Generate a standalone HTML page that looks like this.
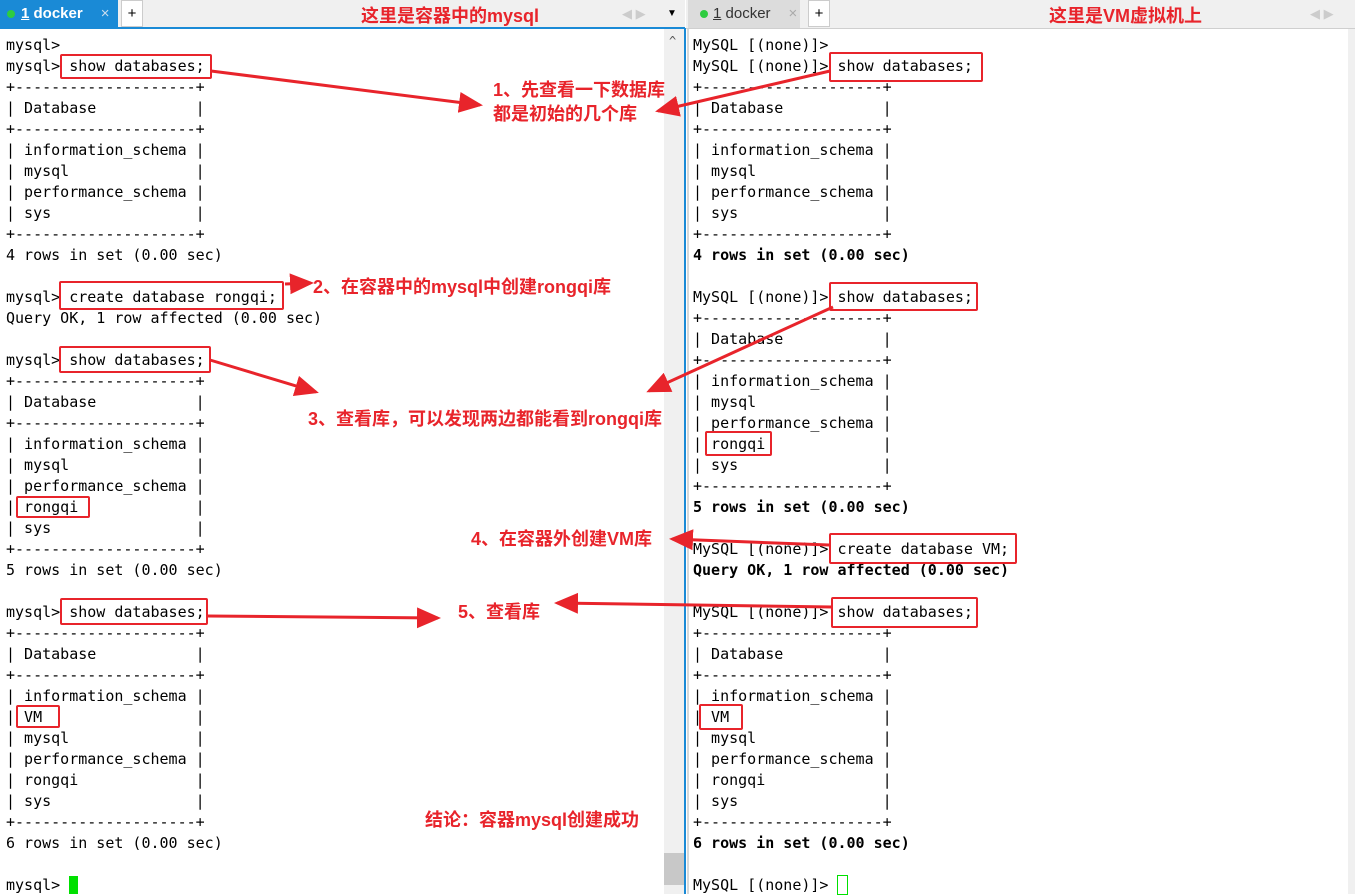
<!DOCTYPE html>
<html><head><meta charset="utf-8"><style>
body{margin:0;width:1355px;height:894px;background:#fff;position:relative;overflow:hidden;font-family:"DejaVu Sans Mono","Liberation Mono",monospace}
.bar{position:absolute;top:0;height:28px;background:#f0f0f0;border-bottom:1px solid #cfcfcf}
.tab{position:absolute;top:0;height:28px;font:15px "Liberation Sans",sans-serif;line-height:28px}
pre{position:absolute;margin:0;font:15px/21px "DejaVu Sans Mono",monospace;color:#000}
.b{font-weight:bold}
.box{position:absolute;border:2px solid #e8242b;border-radius:2px;box-sizing:border-box}
.lab{position:absolute;color:#e8242b;font:bold 18px "Liberation Sans","Noto Sans CJK SC",sans-serif;white-space:nowrap}
</style></head><body>
<div class="bar" style="left:0;width:685px"></div>
<div class="bar" style="left:686px;width:669px"></div>
<div class="tab" style="left:0;width:118px;background:#1a8ad6;color:#fff;font-weight:bold"><span style="display:inline-block;width:8px;height:8px;border-radius:50%;background:#2ecc40;margin:0 6px 0 7px"></span><u>1</u> docker<span style="font-weight:normal;margin-left:18px;color:#cde">×</span></div>
<div class="tab" style="left:121px;width:20px;background:#fff;border:1px solid #ccc;height:25px;text-align:center;line-height:25px">+</div>
<div class="tab" style="left:688px;width:112px;background:#dcdcdc;color:#333"><span style="display:inline-block;width:8px;height:8px;border-radius:50%;background:#2ecc40;margin:0 5px 0 12px"></span><u>1</u> docker<span style="margin-left:18px;color:#aaa">×</span></div>
<div class="tab" style="left:808px;width:20px;background:#fff;border:1px solid #ccc;height:25px;text-align:center;line-height:25px">+</div>
<div class="tab" style="left:622px;color:#ccc;font-size:13px">◀ ▶</div><div class="tab" style="left:667px;font-size:10px">▼</div>
<div class="tab" style="left:1310px;color:#ccc;font-size:13px">◀ ▶</div>
<div style="position:absolute;left:0;top:27px;width:685px;height:2px;background:#1a8ad6"></div>
<div style="position:absolute;left:684px;top:28px;width:2px;height:866px;background:#1a8ad6"></div>
<div style="position:absolute;left:664px;top:29px;width:20px;height:865px;background:#f0f0f0"></div>
<div style="position:absolute;left:664px;top:853px;width:20px;height:32px;background:#c8c8c8"></div>
<div style="position:absolute;left:669px;top:34px;font-size:12px;color:#555">^</div>
<div style="position:absolute;left:687px;top:29px;width:2px;height:865px;background:#d8d8d8"></div>
<div style="position:absolute;left:1348px;top:29px;width:7px;height:865px;background:#f0f0f0"></div>
<pre style="left:6px;top:35px">mysql>
mysql> show databases;
+--------------------+
| Database           |
+--------------------+
| information_schema |
| mysql              |
| performance_schema |
| sys                |
+--------------------+
4 rows in set (0.00 sec)

mysql> create database rongqi;
Query OK, 1 row affected (0.00 sec)

mysql> show databases;
+--------------------+
| Database           |
+--------------------+
| information_schema |
| mysql              |
| performance_schema |
| rongqi             |
| sys                |
+--------------------+
5 rows in set (0.00 sec)

mysql> show databases;
+--------------------+
| Database           |
+--------------------+
| information_schema |
| VM                 |
| mysql              |
| performance_schema |
| rongqi             |
| sys                |
+--------------------+
6 rows in set (0.00 sec)

mysql> <span style="background:#00e000"> </span></pre>
<pre style="left:693px;top:35px">MySQL [(none)]>
MySQL [(none)]> show databases;
+--------------------+
| Database           |
+--------------------+
| information_schema |
| mysql              |
| performance_schema |
| sys                |
+--------------------+
<span class="b">4 rows in set (0.00 sec)</span>

MySQL [(none)]> show databases;
+--------------------+
| Database           |
+--------------------+
| information_schema |
| mysql              |
| performance_schema |
| rongqi             |
| sys                |
+--------------------+
<span class="b">5 rows in set (0.00 sec)</span>

MySQL [(none)]> create database VM;
<span class="b">Query OK, 1 row affected (0.00 sec)</span>

MySQL [(none)]> show databases;
+--------------------+
| Database           |
+--------------------+
| information_schema |
| VM                 |
| mysql              |
| performance_schema |
| rongqi             |
| sys                |
+--------------------+
<span class="b">6 rows in set (0.00 sec)</span>

MySQL [(none)]> <span style="outline:1px solid #00e000"> </span></pre>
<div class="box" style="left:60px;top:54px;width:152px;height:25px"></div>
<div class="box" style="left:59px;top:281px;width:225px;height:29px"></div>
<div class="box" style="left:59px;top:346px;width:152px;height:27px"></div>
<div class="box" style="left:16px;top:496px;width:74px;height:22px"></div>
<div class="box" style="left:60px;top:598px;width:148px;height:27px"></div>
<div class="box" style="left:16px;top:705px;width:44px;height:23px"></div>
<div class="box" style="left:829px;top:52px;width:154px;height:30px"></div>
<div class="box" style="left:829px;top:282px;width:149px;height:29px"></div>
<div class="box" style="left:705px;top:431px;width:67px;height:25px"></div>
<div class="box" style="left:829px;top:533px;width:188px;height:31px"></div>
<div class="box" style="left:831px;top:597px;width:147px;height:31px"></div>
<div class="box" style="left:699px;top:704px;width:44px;height:26px"></div>
<svg style="position:absolute;left:0;top:0" width="1355" height="894">
<defs><marker id="a" markerWidth="8" markerHeight="8" refX="7" refY="4" orient="auto" markerUnits="strokeWidth"><path d="M0,0.5 L8,4 L0,7.5 Z" fill="#e8242b"/></marker></defs>
<g stroke="#e8242b" stroke-width="3" fill="none" marker-end="url(#a)">
<line x1="211" y1="71" x2="480" y2="105"/>
<line x1="830" y1="71" x2="658" y2="111"/>
<line x1="285" y1="284" x2="311" y2="283"/>
<line x1="210" y1="360" x2="316" y2="392"/>
<line x1="833" y1="307" x2="649" y2="391"/>
<line x1="829" y1="545" x2="672" y2="539"/>
<line x1="207" y1="616" x2="438" y2="618"/>
<line x1="832" y1="607" x2="557" y2="603"/>
</g></svg>
<div class="lab" style="left:361px;top:2px">这里是容器中的mysql</div>
<div class="lab" style="left:1049px;top:2px">这里是VM虚拟机上</div>
<div class="lab" style="left:493px;top:76px">1、先查看一下数据库</div>
<div class="lab" style="left:493px;top:100px">都是初始的几个库</div>
<div class="lab" style="left:313px;top:273px">2、在容器中的mysql中创建rongqi库</div>
<div class="lab" style="left:308px;top:405px">3、查看库，可以发现两边都能看到rongqi库</div>
<div class="lab" style="left:471px;top:525px">4、在容器外创建VM库</div>
<div class="lab" style="left:458px;top:598px">5、查看库</div>
<div class="lab" style="left:425px;top:806px">结论：容器mysql创建成功</div>
</body></html>
